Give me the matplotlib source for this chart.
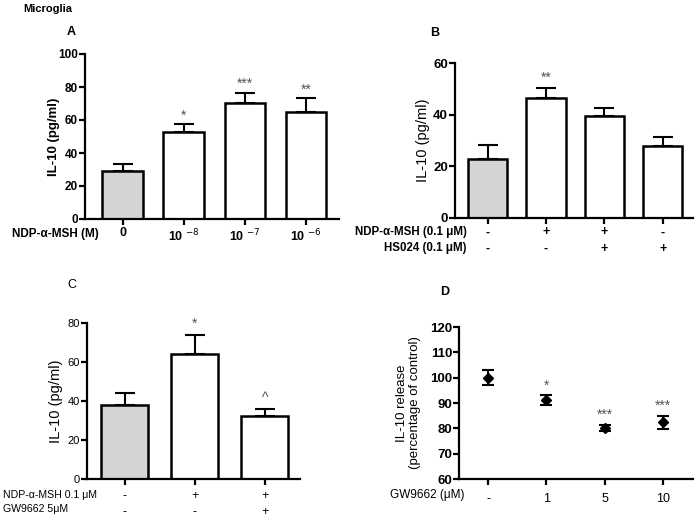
import matplotlib
matplotlib.use("Agg")
import matplotlib.pyplot as plt
import numpy as np

plt.rcParams['font.family'] = ['Liberation Sans', 'DejaVu Sans']

# ---- Data ----
a_labels = ["0", "10 $^{-8}$", "10 $^{-7}$", "10 $^{-6}$"]
a_means = [29, 52.5, 70, 65]
a_err = [4.5, 5, 6.5, 8.3]
a_sig = ["", "*", "***", "**"]

b_row1 = ["-", "+", "+", "-"]
b_row2 = ["-", "-", "+", "+"]
b_means = [23, 46.5, 39.5, 28]
b_err = [5.4, 4, 3, 3.5]
b_sig = ["", "**", "", ""]

c_row1 = ["-", "+", "+"]
c_row2 = ["-", "-", "+"]
c_means = [38, 64, 32.5]
c_err = [6.2, 9.9, 3.5]
c_sig = ["", "*", "^"]

d_labels = ["-", "1", "5", "10"]
d_means = [100, 91.2, 80.2, 82.4]
d_err = [3.0, 1.8, 1.3, 2.6]
d_sig = ["", "*", "***", "***"]

W, H = 697, 518
fig = plt.figure(figsize=(W / 100, H / 100), dpi=100)
fig.patch.set_facecolor("white")

def px_axes(l, r, t, b):
    return fig.add_axes([l / W, 1 - b / H, (r - l) / W, (b - t) / H])

def ftext(x, y, s, **kw):
    fig.text(x / W, 1 - y / H, s, **kw)

def style(ax, ylim, yticks, tick_fs=9, bold=True, xpad=1):
    for s in ["top", "right"]:
        ax.spines[s].set_visible(False)
    for s in ["left", "bottom"]:
        ax.spines[s].set_linewidth(1.6)
    ax.set_ylim(*ylim)
    ax.set_yticks(yticks)
    ax.tick_params(axis="y", direction="out", width=1.6, length=4, pad=1)
    ax.tick_params(axis="x", direction="out", width=1.6, length=4, pad=xpad)
    for lab in ax.get_yticklabels():
        lab.set_fontsize(tick_fs)
        lab.set_fontweight("bold" if bold else "normal")

def bars(ax, means, errs, sig, gap, sig_fs=10):
    x = np.arange(len(means))
    colors = ["#d4d4d4"] + ["white"] * (len(means) - 1)
    ax.bar(x, means, width=0.67, color=colors, edgecolor="black", linewidth=1.8, zorder=2)
    ax.errorbar(x, means, yerr=[np.zeros(len(errs)), errs], fmt="none", ecolor="black",
                elinewidth=1.5, capsize=7, capthick=1.5, zorder=3)
    for xi, m, e, s in zip(x, means, errs, sig):
        if s:
            ax.text(xi, m + e + gap, s, ha="center", va="bottom", fontsize=sig_fs, color="#555555")
    return x

# Panel A
axA = px_axes(85, 339, 54, 219)
x = bars(axA, a_means, a_err, a_sig, 1.0)
axA.set_xlim(-0.62, 3.54)
style(axA, (0, 100), [0, 20, 40, 60, 80, 100], tick_fs=8.5, xpad=2)
axA.set_xticks(x)
axA.set_xticklabels(a_labels, fontsize=9, fontweight="bold")
axA.set_ylabel("IL-10 (pg/ml)", fontsize=9.5, fontweight="bold")
axA.yaxis.set_label_coords(-0.098, 0.5)
ftext(12, 234, "NDP-α-MSH (M)", fontsize=8.5, fontweight="bold", va="center", ha="left")

# Panel B
axB = px_axes(455, 693, 63, 218)
x = bars(axB, b_means, b_err, b_sig, 1.0)
axB.set_xlim(-0.56, 3.52)
style(axB, (0, 60), [0, 20, 40, 60], tick_fs=9.5, xpad=2)
axB.set_xticks(x)
axB.set_xticklabels([f"{r1}\n{r2}" for r1, r2 in zip(b_row1, b_row2)], fontsize=9,
                    fontweight="bold", linespacing=1.5)
axB.set_ylabel("IL-10 (pg/ml)", fontsize=10.5)
axB.yaxis.set_label_coords(-0.105, 0.5)
ftext(467, 232, "NDP-α-MSH (0.1 μM)", fontsize=8.3, fontweight="bold", va="center", ha="right")
ftext(467, 248, "HS024 (0.1 μM)", fontsize=8.3, fontweight="bold", va="center", ha="right")

# Panel C
axC = px_axes(87, 300, 323, 479)
x = bars(axC, c_means, c_err, c_sig, 2.0)
axC.set_xlim(-0.54, 2.5)
style(axC, (0, 80), [0, 20, 40, 60, 80], tick_fs=8, bold=False, xpad=4)
axC.set_xticks(x)
axC.set_xticklabels([f"{r1}\n{r2}" for r1, r2 in zip(c_row1, c_row2)], fontsize=9,
                    linespacing=1.4)
axC.set_ylabel("IL-10 (pg/ml)", fontsize=10.5)
axC.yaxis.set_label_coords(-0.113, 0.5)
ftext(3, 495, "NDP-α-MSH 0.1 μM", fontsize=7.6, va="center", ha="left")
ftext(3, 509, "GW9662 5μM", fontsize=7.6, va="center", ha="left")

# Panel D
axD = px_axes(459, 693, 327, 479)
xd = np.arange(len(d_means))
axD.errorbar(xd, d_means, yerr=d_err, fmt="D", color="black", markersize=5.5,
             elinewidth=1.5, capsize=4.5, capthick=1.5, zorder=3)
for xi, m, e, s in zip(xd, d_means, d_err, d_sig):
    if s:
        axD.text(xi, m + e + 1.0, s, ha="center", va="bottom", fontsize=10, color="#555555")
axD.set_xlim(-0.5, 3.52)
style(axD, (60, 120), [60, 70, 80, 90, 100, 110, 120], tick_fs=9.5, xpad=6)
axD.set_xticks(xd)
axD.set_xticklabels(d_labels, fontsize=9)
axD.set_ylabel("IL-10 release\n(percentage of control)", fontsize=9.5, linespacing=1.1)
axD.yaxis.set_label_coords(-0.162, 0.5)
ftext(465, 495, "GW9662 (μM)", fontsize=8.5, va="center", ha="right")

# Panel letters and title
ftext(23, 9, "Microglia", fontsize=8, fontweight="bold", va="center")
ftext(67, 32, "A", fontsize=9, fontweight="bold", va="center")
ftext(430, 33, "B", fontsize=9, fontweight="bold", va="center")
ftext(67, 285, "C", fontsize=9, va="center")
ftext(440, 292, "D", fontsize=9, fontweight="bold", va="center")

fig.savefig("out.png", dpi=100, facecolor="white")
